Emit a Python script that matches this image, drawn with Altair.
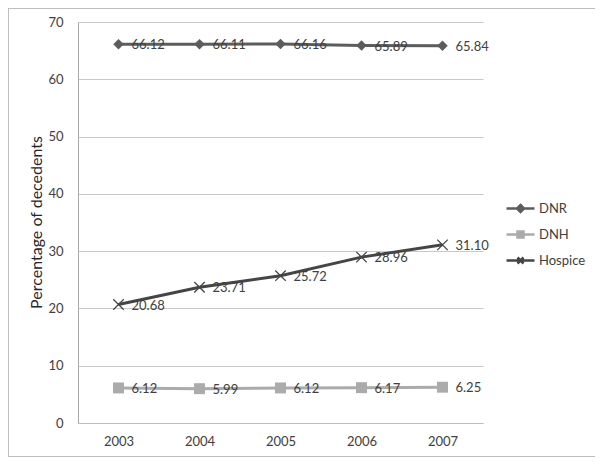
import altair as alt
import pandas as pd

years = ["2003", "2004", "2005", "2006", "2007"]
series_names = ["DNR", "DNH", "Hospice"]
dnr = [66.12, 66.11, 66.16, 65.89, 65.84]
dnh = [6.12, 5.99, 6.12, 6.17, 6.25]
hospice = [20.68, 23.71, 25.72, 28.96, 31.10]
colors = ["#5c5c5c", "#ababab", "#454545"]

rows = []
for name, vals in zip(series_names, [dnr, dnh, hospice]):
    for y, v in zip(years, vals):
        rows.append({"year": y, "series": name, "value": v})
df = pd.DataFrame(rows)

FONT = "Lato"
W, H = 405, 401

x_enc = alt.X("year:O", scale=alt.Scale(type="point", padding=0.5),
              axis=alt.Axis(title=None, labelAngle=0, ticks=False, domain=True,
                            domainColor="#bdbdbd", labelPadding=12, labelFontSize=13,
                            labelColor="#404040", grid=False))
y_enc = alt.Y("value:Q", scale=alt.Scale(domain=[0, 70]),
              axis=alt.Axis(title="Percentage of decedents", values=list(range(0, 71, 10)),
                            ticks=False, domain=True, domainColor="#a8a8a8",
                            grid=True, gridColor="#c9c9c9", labelPadding=15,
                            labelFontSize=13, labelColor="#404040",
                            titleFontSize=16, titleFontWeight="normal", titleColor="#262626",
                            titleX=-42, titleY=200, titleAngle=-90,
                            titleAlign="center", titleBaseline="middle"))

legend_shapes = [
    "M-1.4,0H1.4M0,-0.35L0.35,0L0,0.35L-0.35,0Z",
    "M-1.4,0H1.4M-0.3,-0.3H0.3V0.3H-0.3Z",
    "M-1.4,0H1.4M-0.3,-0.3L0.3,0.3M-0.3,0.3L0.3,-0.3",
]
leg = alt.Legend(title=None, orient="none", legendX=431, legendY=175,
                 symbolSize=400, symbolStrokeWidth=2.5, labelOffset=7,
                 rowPadding=6, padding=0, labelFontSize=13, labelColor="#404040",
                 labelFont=FONT, symbolOpacity=1)

color_scale = alt.Scale(domain=series_names, range=colors)

base = alt.Chart(df)

border = alt.Chart(df).mark_rect(fill=None, stroke="#bfbfbf", strokeWidth=1).encode(
    x=alt.value(-69.5), x2=alt.value(517.5), y=alt.value(-13.5), y2=alt.value(434.5)
)

lines = base.mark_line(strokeWidth=3).encode(
    x=x_enc, y=y_enc,
    color=alt.Color("series:N", scale=color_scale, legend=leg),
)

pts_dnr = base.transform_filter(alt.datum.series == "DNR").mark_point(
    shape="diamond", filled=True, size=110, opacity=1, color=colors[0]
).encode(x="year:O", y="value:Q")

pts_dnh = base.transform_filter(alt.datum.series == "DNH").mark_point(
    shape="square", filled=True, size=120, opacity=1, color=colors[1]
).encode(x="year:O", y="value:Q")

pts_hos = base.transform_filter(alt.datum.series == "Hospice").mark_point(
    shape="M-1,-1L1,1M-1,1L1,-1", filled=False, size=110, opacity=1,
    color=colors[2], strokeWidth=1.3
).encode(x="year:O", y="value:Q")

labels = base.mark_text(align="left", baseline="middle", dx=13, dy=1,
                        fontSize=13, color="#404040", font=FONT).encode(
    x="year:O", y="value:Q",
    text=alt.Text("value:Q", format=".2f"),
)

legend_layer = base.mark_point(filled=True, opacity=0).encode(
    x="year:O", y="value:Q",
    color=alt.Color("series:N", scale=color_scale, legend=leg),
    stroke=alt.Stroke("series:N", scale=alt.Scale(domain=series_names, range=colors), legend=leg),
    shape=alt.Shape("series:N", scale=alt.Scale(domain=series_names, range=legend_shapes), legend=leg),
)

chart = alt.layer(border, lines, pts_dnr, pts_dnh, pts_hos, labels, legend_layer).properties(
    width=W, height=H,
    autosize=alt.AutoSizeParams(type="none"),
    padding={"left": 70, "top": 14, "right": 112, "bottom": 34},
).configure(font=FONT).configure_view(stroke=None)

chart.save("out.html", embed_options={"renderer": "svg", "actions": False})
